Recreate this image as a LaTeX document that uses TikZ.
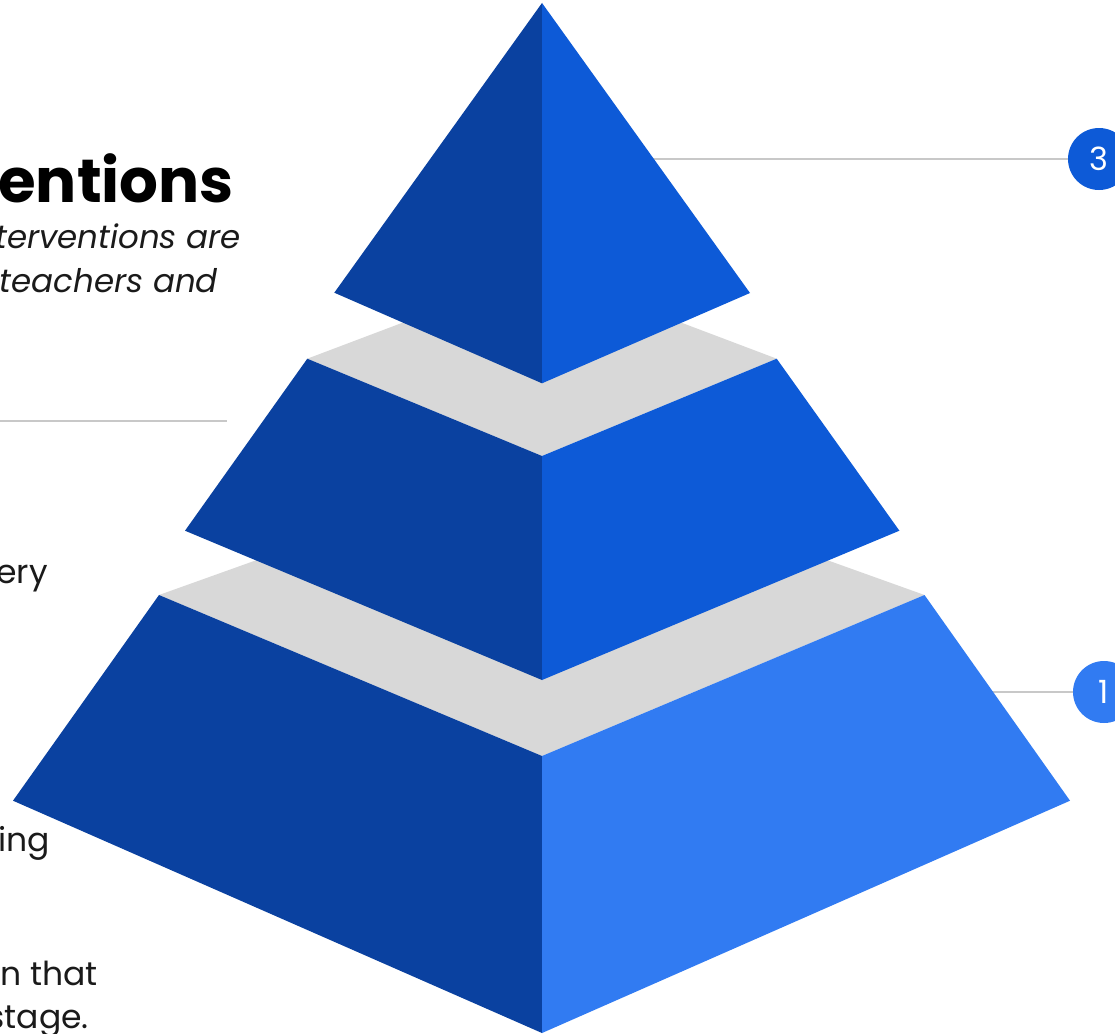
\documentclass[tikz,border=0pt]{standalone}
\usepackage{fontspec}
\setmainfont{Poppins}[Ligatures=NoCommon]
\definecolor{pdark}{HTML}{0A41A0}
\definecolor{pmid}{HTML}{0D5AD7}
\definecolor{plight}{HTML}{317BF2}
\definecolor{pgray}{HTML}{D8D8D8}
\definecolor{lgray}{HTML}{C8C8C8}
\definecolor{txt}{HTML}{1A1A1A}
\begin{document}
\begin{tikzpicture}[x=1pt,y=-1pt,
  conn/.style={draw=lgray,line width=2pt},
  numc/.style={circle,minimum size=62pt,inner sep=0pt,text=white,font=\fontsize{32}{32}\selectfont},
  titletxt/.style={anchor=base east,inner sep=0pt,font=\fontsize{61}{61}\selectfont\bfseries,text=black},
  ittxt/.style={anchor=base east,inner sep=0pt,font=\fontsize{32.5}{32.5}\selectfont\itshape,text=txt},
  bodytxt/.style={anchor=base east,inner sep=0pt,font=\fontsize{33}{33}\selectfont,text=txt}]
\useasboundingbox (0,0) rectangle (1115,1033);
\clip (0,0) rectangle (1115,1033);
\fill[white] (0,0) rectangle (1115,1033);

% left texts
\node[titletxt] (title) at (234,202) {entions};
\node[ittxt] (it1) at (241,248) {terventions are};
\node[ittxt] (it2) at (218,292) {teachers and};
\coordinate (sl) at (0,421);
\coordinate (sr) at (227,421);
\draw[conn] (sl) -- (sr);
\node[bodytxt] (b1) at (48,583) {ery};
\node[bodytxt] (b2) at (50,851) {ing};
\node[bodytxt] (b3) at (98,985) {n that};
\node[bodytxt] (b4) at (89,1028) {stage.};

% number markers and connectors
\node[numc,fill=pmid] (n3) at (1099,159) {3};
\node[numc,fill=plight] (n1) at (1104,692) {1};
\coordinate (a3) at (620,159);
\coordinate (a1) at (960,692);
\draw[conn] (n3) -- (a3);
\draw[conn] (n1) -- (a1);

% bottom tier
\fill[pgray] (159,595) -- (542,458) -- (924.5,595) -- (542,756) -- cycle;
\fill[pdark] (159,595) -- (542,756) -- (542,1033) -- (13,800.7) -- cycle;
\fill[plight] (542,756) -- (924.5,595) -- (1070,800.7) -- (542,1033) -- cycle;

% middle tier
\fill[pgray] (307.3,358.7) -- (542,270) -- (776.7,358.7) -- (542,456) -- cycle;
\fill[pdark] (307.3,358.7) -- (542,456) -- (542,680) -- (185,530.7) -- cycle;
\fill[pmid] (542,456) -- (776.7,358.7) -- (899.4,530.7) -- (542,680) -- cycle;

% top tier
\fill[pdark] (542,3) -- (542,383.3) -- (334.3,292.7) -- cycle;
\fill[pmid] (542,3) -- (750,293) -- (542,383.3) -- cycle;
\end{tikzpicture}
\end{document}
